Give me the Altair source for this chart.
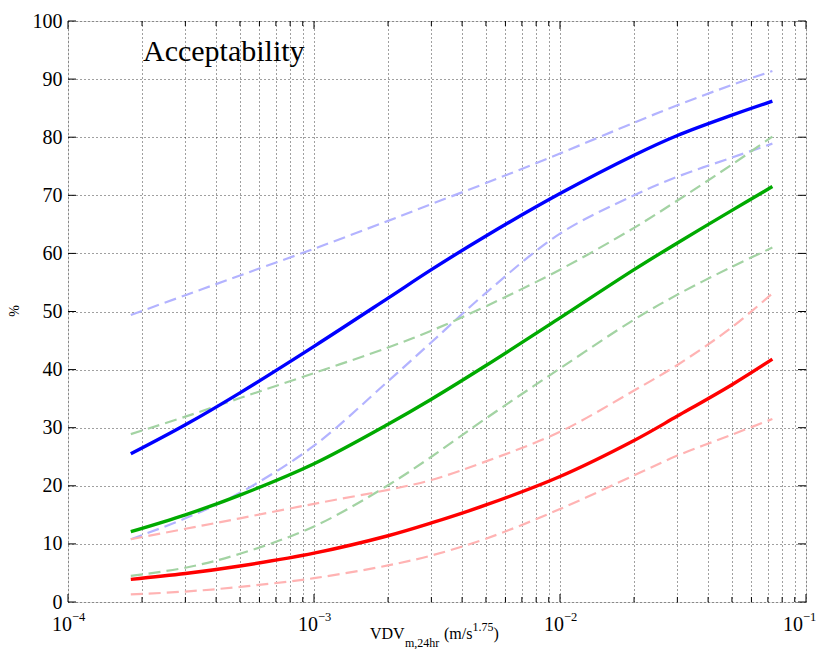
import altair as alt
import pandas as pd

# ---- data ----
x_vals = [1.8e-4, 3e-4, 5e-4, 1e-3, 2e-3, 3e-3, 5e-3, 1e-2, 2e-2, 3e-2, 5e-2, 7.3e-2]

blue_hi = [49.4, 52.8, 56.2, 60.8, 65.6, 68.5, 72.1, 77.2, 82.5, 85.5, 89.0, 91.4]
blue_mid = [25.5, 30.5, 36.0, 44.0, 52.3, 57.2, 63.0, 70.3, 76.9, 80.3, 83.8, 86.2]
blue_lo = [10.8, 14.4, 18.8, 26.9, 38.0, 44.7, 53.2, 63.4, 70.0, 73.2, 76.5, 78.9]

green_hi = [28.9, 31.9, 35.1, 39.4, 43.8, 46.7, 50.9, 57.2, 64.4, 69.1, 75.3, 80.1]
green_mid = [12.1, 15.0, 18.4, 23.8, 30.6, 34.9, 40.7, 48.9, 57.2, 61.8, 67.4, 71.5]
green_lo = [4.5, 5.9, 8.3, 13.0, 20.1, 25.0, 31.6, 40.2, 48.6, 52.9, 57.7, 61.0]

red_hi = [10.8, 12.6, 14.4, 16.9, 19.3, 21.0, 24.2, 29.3, 36.4, 40.8, 47.3, 53.1]
red_mid = [3.9, 4.9, 6.2, 8.4, 11.4, 13.6, 16.7, 21.6, 27.8, 32.0, 37.4, 41.8]
red_lo = [1.3, 1.8, 2.6, 4.1, 6.3, 8.0, 10.9, 16.0, 21.8, 25.2, 28.8, 31.5]

series_names = ["blue_hi", "blue_mid", "blue_lo", "green_hi", "green_mid",
                "green_lo", "red_hi", "red_mid", "red_lo"]
series_colors = ["#b3b3ff", "#0000ff", "#b3b3ff", "#a3d3a3", "#00aa00",
                 "#a3d3a3", "#ffb3b3", "#ff0000", "#ffb3b3"]
series_vals = [blue_hi, blue_mid, blue_lo, green_hi, green_mid, green_lo,
               red_hi, red_mid, red_lo]
series_style = ["dash", "solid", "dash", "dash", "solid", "dash", "dash", "solid", "dash"]

decades = [1e-4, 1e-3, 1e-2, 1e-1]
decade_exp = ["\u22124", "\u22123", "\u22122", "\u22121"]
minor_ticks = [m * 10.0 ** e for e in (-4, -3, -2) for m in range(2, 10)]
y_ticks = list(range(0, 101, 10))

rows = []
for name, vals, st in zip(series_names, series_vals, series_style):
    for xv, yv in zip(x_vals, vals):
        rows.append({"s": name, "x": xv, "y": yv, "style": st})
df = pd.DataFrame(rows)
df_solid = df[df["style"] == "solid"]
df_dash = df[df["style"] == "dash"]

W, H = 738, 581
FONT = "Liberation Serif"

xscale = alt.Scale(type="log", domain=[1e-4, 1e-1], nice=False)
yscale = alt.Scale(domain=[0, 100], nice=False)
cscale = alt.Scale(domain=series_names, range=series_colors)

xaxis = alt.Axis(values=decades + minor_ticks, labels=False, ticks=False, domain=False,
                 grid=True, gridDash=[1, 3], gridColor="#000", gridOpacity=0.75,
                 gridWidth=1, title=None)
yaxis = alt.Axis(values=y_ticks, ticks=False, domain=False, grid=True, gridDash=[1, 3],
                 gridColor="#000", gridOpacity=0.75, gridWidth=1, title=None,
                 labelFont=FONT, labelFontSize=20, labelColor="#000", labelPadding=6)


def X(field="x"):
    return alt.X(f"{field}:Q", scale=xscale, axis=xaxis)


def Y(field="y"):
    return alt.Y(f"{field}:Q", scale=yscale, axis=yaxis)


dash_layer = alt.Chart(df_dash).mark_line(strokeWidth=2.2, strokeDash=[12, 6],
                                          interpolate="catmull-rom").encode(
    x=X(), y=Y(),
    color=alt.Color("s:N", scale=cscale, legend=None),
    detail="s:N",
)
solid_layer = alt.Chart(df_solid).mark_line(strokeWidth=3.4,
                                            interpolate="catmull-rom").encode(
    x=X(), y=Y(),
    color=alt.Color("s:N", scale=cscale, legend=None),
    detail="s:N",
)

# inward ticks on all four sides
minor_df = pd.DataFrame({"x": minor_ticks})
major_df = pd.DataFrame({"x": decades})
ydf = pd.DataFrame({"y": y_ticks})


def xticks(d, y0, y1):
    return alt.Chart(d).mark_rule(color="#000", strokeWidth=1).encode(
        x=X(), y=alt.value(y0), y2=alt.value(y1))


def yticks(x0, x1):
    return alt.Chart(ydf).mark_rule(color="#000", strokeWidth=1).encode(
        y=Y(), x=alt.value(x0), x2=alt.value(x1))


tick_layers = [
    xticks(minor_df, H, H - 5), xticks(minor_df, 0, 5),
    xticks(major_df, H, H - 8), xticks(major_df, 0, 8),
    yticks(0, 8), yticks(W, W - 8),
]

# x tick labels 10^n (the last one nudged left so it stays on the page)
dec_df = pd.DataFrame({"x": decades, "e": decade_exp})
label_layers = []
for part, shift in ((dec_df.iloc[:3], 4), (dec_df.iloc[3:], -3)):
    label_layers.append(alt.Chart(part).mark_text(
        align="right", baseline="alphabetic", dx=shift,
        font=FONT, fontSize=20, color="#000").encode(
        x=X(), y=alt.value(610), text=alt.value("10")))
    label_layers.append(alt.Chart(part).mark_text(
        align="left", baseline="alphabetic", dx=shift,
        font=FONT, fontSize=12.5, color="#000").encode(
        x=X(), y=alt.value(600), text="e:N"))

one = pd.DataFrame({"k": [0]})


def txt(s, x, y, size, angle=0, align="left", baseline="alphabetic"):
    m = dict(align=align, baseline=baseline, font=FONT, fontSize=size, color="#000")
    if angle:
        m["angle"] = angle
    return alt.Chart(one).mark_text(**m).encode(
        x=alt.value(x), y=alt.value(y), text=alt.value(s))


texts = [
    txt("Acceptability", 75, 40, 30),
    txt("VDV", 302, 618, 16),
    txt("m,24hr", 337, 625.5, 12),
    txt("(m/s", 376, 618, 16),
    txt("1.75", 404.5, 610, 12),
    txt(")", 425.5, 618, 16),
    txt("%", -53, 290, 14, angle=270, align="center", baseline="middle"),
]

chart = alt.layer(dash_layer, solid_layer, *tick_layers, *label_layers, *texts).properties(
    width=W, height=H,
    autosize=alt.AutoSizeParams(type="none"),
    padding={"left": 60, "top": 13, "right": 12, "bottom": 47},
).configure_view(stroke="#444", strokeWidth=1).configure(background="white")

chart.save("out.html", embed_options={"renderer": "svg", "actions": False})
